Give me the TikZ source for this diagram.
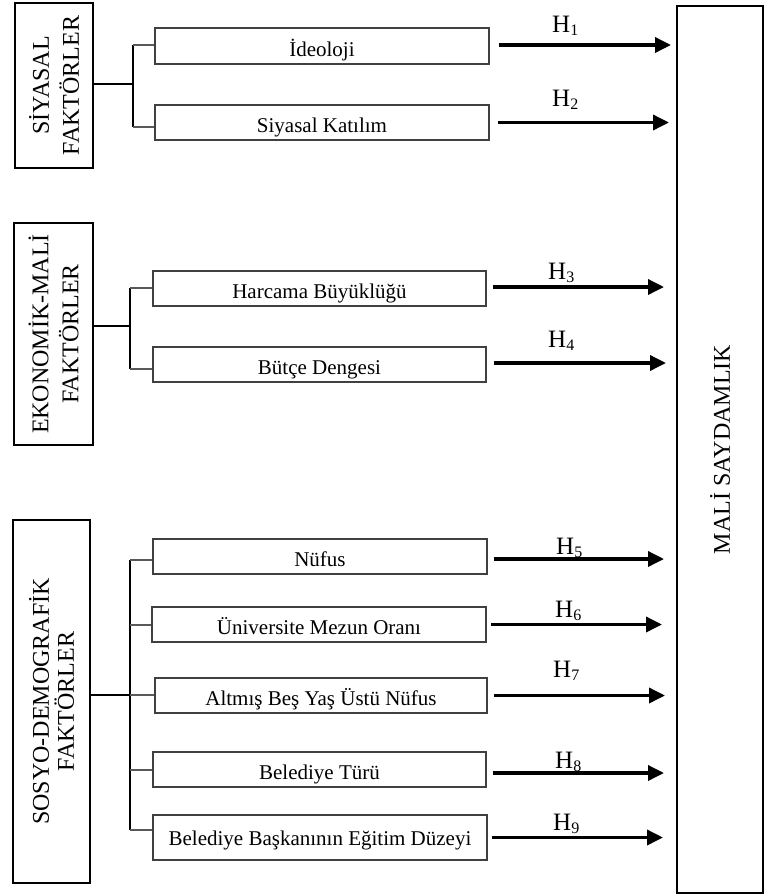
\documentclass[tikz,border=0pt]{standalone}
\usepackage{fontspec}
\setmainfont{Liberation Serif}
\usetikzlibrary{arrows.meta}
\tikzset{
  catbox/.style={draw=black, line width=2pt, inner sep=0pt, align=center, font=\fontsize{24}{30}\selectfont},
  itembox/.style={draw=black!75, line width=1.3pt, inner sep=0pt, font=\fontsize{21}{25}\selectfont, text height=27pt, text depth=8pt},
  trunk/.style={line width=2pt, draw=black},
  tickln/.style={line width=1.2pt, draw=black!65},
  hyparr/.style={line width=3.5pt, -{Triangle[length=16pt,width=15pt]}},
  hlab/.style={anchor=base west, inner sep=0pt, font=\fontsize{25}{25}\selectfont},
}
\newcommand{\hyp}[1]{H\raisebox{-3pt}{\fontsize{16}{16}\selectfont #1}}
\begin{document}
\begin{tikzpicture}[x=1pt,y=-1pt]
\useasboundingbox (0,0) rectangle (765,895);

% category boxes (rotated: .south is the right side on the page, .north the left side)
\node[catbox, rotate=90, minimum width=165pt, minimum height=78pt] (sf) at (54,85.5) {SİYASAL\\FAKTÖRLER};
\node[catbox, rotate=90, minimum width=222pt, minimum height=79pt] (ef) at (53.5,334) {EKONOMİK-MALİ\\FAKTÖRLER};
\node[catbox, rotate=90, minimum width=363pt, minimum height=77pt, font=\fontsize{24}{25}\selectfont] (sd) at (51.5,701.5) {SOSYO-DEMOGRAFİK\\FAKTÖRLER};
\node[catbox, rotate=90, minimum width=887pt, minimum height=86pt] (mali) at (720,449.5) {MALİ SAYDAMLIK};

% item boxes
\node[itembox, minimum width=334pt, text height=28pt] (ide) at (322,46) {İdeoloji};
\node[itembox, minimum width=334pt] (sk) at (322,122.5) {Siyasal Katılım};
\node[itembox, minimum width=333pt] (hb) at (319.5,288.5) {Harcama Büyüklüğü};
\node[itembox, minimum width=333pt] (bd) at (319.5,364.5) {Bütçe Dengesi};
\node[itembox, minimum width=334pt] (nf) at (320,556.5) {Nüfus};
\node[itembox, minimum width=334pt] (um) at (319,624.5) {Üniversite Mezun Oranı};
\node[itembox, minimum width=332pt] (ab) at (321,695.5) {Altmış Beş Yaş Üstü Nüfus};
\node[itembox, minimum width=333pt] (bt) at (319.5,769.5) {Belediye Türü};
\node[itembox, minimum width=334pt, text height=30pt, text depth=15pt] (bb) at (320,837.5) {Belediye Başkanının Eğitim Düzeyi};

% brackets: siyasal
\coordinate (sj) at (133,84);
\coordinate (s1) at (133,45);
\coordinate (s2) at (133,127);
\draw[trunk] (sj -| sf.south) -- (sj);
\draw[trunk] (s1) -- (s2);
\draw[tickln] (s1) -- (s1 -| ide.west);
\draw[tickln] (s2) -- (s2 -| sk.west);

% brackets: ekonomik
\coordinate (ej) at (130,326);
\coordinate (e1) at (130,288);
\coordinate (e2) at (130,369);
\draw[trunk] (ej -| ef.south) -- (ej);
\draw[trunk] (e1) -- (e2);
\draw[tickln] (e1) -- (e1 -| hb.west);
\draw[tickln] (e2) -- (e2 -| bd.west);

% brackets: sosyo
\coordinate (dj) at (130,695);
\coordinate (d1) at (130,560);
\coordinate (d2) at (130,625);
\coordinate (d3) at (130,695);
\coordinate (d4) at (130,770);
\coordinate (d5) at (130,830);
\draw[trunk] (dj -| sd.south) -- (dj);
\draw[trunk] (d1) -- (d5);
\draw[tickln] (d1) -- (d1 -| nf.west);
\draw[tickln] (d2) -- (d2 -| um.west);
\draw[tickln] (d3) -- (d3 -| ab.west);
\draw[tickln] (d4) -- (d4 -| bt.west);
\draw[tickln] (d5) -- (d5 -| bb.west);

% arrows
\coordinate (a1) at ([xshift=9pt,yshift=1pt]ide.east);
\coordinate (a2) at ([xshift=8pt]sk.east);
\coordinate (a3) at ([xshift=6pt,yshift=1.5pt]hb.east);
\coordinate (a4) at ([xshift=7pt,yshift=1.5pt]bd.east);
\coordinate (a5) at ([xshift=6pt,yshift=-2.5pt]nf.east);
\coordinate (a6) at ([xshift=4pt]um.east);
\coordinate (a7) at ([xshift=6pt]ab.east);
\coordinate (a8) at ([xshift=6pt,yshift=-3.5pt]bt.east);
\coordinate (a9) at ([xshift=4pt]bb.east);
\draw[hyparr, shorten >=5pt] (a1) -- (a1 -| mali.north);
\draw[hyparr, shorten >=7pt] (a2) -- (a2 -| mali.north);
\draw[hyparr, shorten >=12pt] (a3) -- (a3 -| mali.north);
\draw[hyparr, shorten >=10pt] (a4) -- (a4 -| mali.north);
\draw[hyparr, shorten >=12pt] (a5) -- (a5 -| mali.north);
\draw[hyparr, shorten >=14pt] (a6) -- (a6 -| mali.north);
\draw[hyparr, shorten >=11pt] (a7) -- (a7 -| mali.north);
\draw[hyparr, shorten >=12pt] (a8) -- (a8 -| mali.north);
\draw[hyparr, shorten >=13pt] (a9) -- (a9 -| mali.north);

% hypothesis labels
\node[hlab] (h1) at (552,32) {\hyp{1}};
\node[hlab] (h2) at (552,106) {\hyp{2}};
\node[hlab] (h3) at (548,279) {\hyp{3}};
\node[hlab] (h4) at (548,347) {\hyp{4}};
\node[hlab] (h5) at (556,554) {\hyp{5}};
\node[hlab] (h6) at (555,617) {\hyp{6}};
\node[hlab] (h7) at (553,677) {\hyp{7}};
\node[hlab] (h8) at (555,768) {\hyp{8}};
\node[hlab] (h9) at (553,830) {\hyp{9}};
\end{tikzpicture}
\end{document}
